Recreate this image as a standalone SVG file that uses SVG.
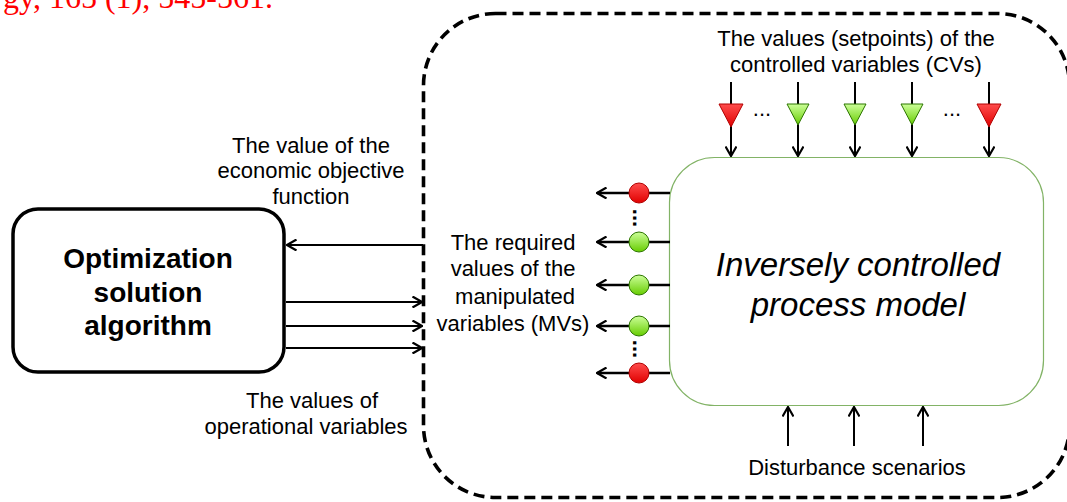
<svg xmlns="http://www.w3.org/2000/svg" width="1067" height="502" viewBox="0 0 1067 502">
  <style>
    .lbl { font-family: "Liberation Sans", Arial, sans-serif; font-size: 22px; fill: #000; text-anchor: middle; }
    .big { font-family: "Liberation Sans", Arial, sans-serif; font-size: 28px; font-weight: bold; fill: #000; text-anchor: middle; }
    .ital { font-family: "Liberation Sans", Arial, sans-serif; font-size: 33px; font-style: italic; fill: #000; text-anchor: middle; }
    .ref { font-family: "Liberation Serif", "Times New Roman", serif; font-size: 32px; fill: #ff0000; }
    .conn { fill: none; stroke: #000; stroke-width: 2; marker-end: url(#arr); }
    .mv { stroke-width: 2.5; }
    .red { fill: url(#gRed); stroke: #b20000; stroke-width: 1; }
    .green { fill: url(#gGreen); stroke: #2d7600; stroke-width: 1; }
  </style>
  <defs>
    <marker id="arr" markerWidth="12" markerHeight="12" viewBox="0 0 12 12" refX="11" refY="6" orient="auto" markerUnits="userSpaceOnUse">
      <path d="M1.5,0.5 L11,6 L1.5,11.5" fill="none" stroke="#000" stroke-width="2.2"/>
    </marker>
    <linearGradient id="gRed" x1="0" y1="0" x2="0" y2="1">
      <stop offset="0" stop-color="#ff4d4d"/>
      <stop offset="1" stop-color="#e00000"/>
    </linearGradient>
    <linearGradient id="gGreen" x1="0" y1="0" x2="0" y2="1">
      <stop offset="0" stop-color="#ccff99"/>
      <stop offset="1" stop-color="#66cc00"/>
    </linearGradient>
  </defs>

  <!-- citation fragment at the top -->
  <text class="ref" x="3" y="7.5">gy, 165 (1), 545-561.</text>

  <!-- dashed system boundary -->
  <rect x="423.5" y="13.5" width="646" height="484" rx="72" fill="none" stroke="#000" stroke-width="3.6" stroke-dasharray="11 6"/>

  <!-- optimizer -->
  <g id="optimizer">
    <rect x="13" y="209" width="271" height="163" rx="25" fill="#fff" stroke="#000" stroke-width="3.5"/>
    <text class="big" x="148" y="268">Optimization</text>
    <text class="big" x="148" y="302">solution</text>
    <text class="big" x="148" y="335">algorithm</text>
  </g>

  <!-- process model -->
  <g id="process">
    <rect x="669.5" y="157.5" width="374" height="248" rx="45" fill="#fff" stroke="#82b366" stroke-width="1.2"/>
    <text class="ital" x="858" y="276">Inversely controlled</text>
    <text class="ital" x="858" y="316">process model</text>
  </g>

  <!-- connectors -->
  <g id="connectors">
    <path class="conn" d="M423,245 H287"/>
    <path class="conn" d="M286,302 H422"/>
    <path class="conn" d="M286,326 H422"/>
    <path class="conn" d="M286,348 H422"/>

    <path class="conn mv" d="M670,193 H597"/>
    <path class="conn mv" d="M670,242 H597"/>
    <path class="conn mv" d="M670,285 H597"/>
    <path class="conn mv" d="M670,326 H597"/>
    <path class="conn mv" d="M670,373 H597"/>

    <path class="conn" d="M731,82 V156"/>
    <path class="conn" d="M798,82 V156"/>
    <path class="conn" d="M855,82 V156"/>
    <path class="conn" d="M912,82 V156"/>
    <path class="conn" d="M989,82 V156"/>

    <path class="conn" d="M788,446 V407"/>
    <path class="conn" d="M854,446 V407"/>
    <path class="conn" d="M923,446 V407"/>
  </g>

  <!-- setpoint markers -->
  <g id="cv-markers">
    <polygon class="red" points="719,104 743,104 731,127"/>
    <polygon class="green" points="787,104 809,104 798,125"/>
    <polygon class="green" points="844,104 866,104 855,125"/>
    <polygon class="green" points="901,104 923,104 912,125"/>
    <polygon class="red" points="977,104 1001,104 989,127"/>
    <text class="lbl" x="762" y="116">...</text>
    <text class="lbl" x="952" y="116">...</text>
  </g>

  <!-- manipulated variable markers -->
  <g id="mv-markers">
    <circle class="red" cx="639" cy="193" r="10"/>
    <circle class="green" cx="639" cy="242" r="10"/>
    <circle class="green" cx="639" cy="285" r="10"/>
    <circle class="green" cx="639" cy="326" r="10"/>
    <circle class="red" cx="639" cy="373" r="10"/>
    <text class="lbl" x="0" y="0" transform="translate(632.5,218) rotate(90)" style="font-size:22px;font-weight:bold">...</text>
    <text class="lbl" x="0" y="0" transform="translate(632.5,349) rotate(90)" style="font-size:22px;font-weight:bold">...</text>
  </g>

  <!-- labels -->
  <g id="labels">
    <text class="lbl" x="856" y="46">The values (setpoints) of the</text>
    <text class="lbl" x="856" y="72">controlled variables (CVs)</text>

    <text class="lbl" x="311" y="153">The value of the</text>
    <text class="lbl" x="311" y="178">economic objective</text>
    <text class="lbl" x="311" y="204">function</text>

    <text class="lbl" x="312" y="408">The values of</text>
    <text class="lbl" x="306" y="434">operational variables</text>

    <text class="lbl" x="513" y="250">The required</text>
    <text class="lbl" x="513" y="276">values of the</text>
    <text class="lbl" x="515" y="304">manipulated</text>
    <text class="lbl" x="513" y="331">variables (MVs)</text>

    <text class="lbl" x="857" y="475">Disturbance scenarios</text>
  </g>
</svg>
